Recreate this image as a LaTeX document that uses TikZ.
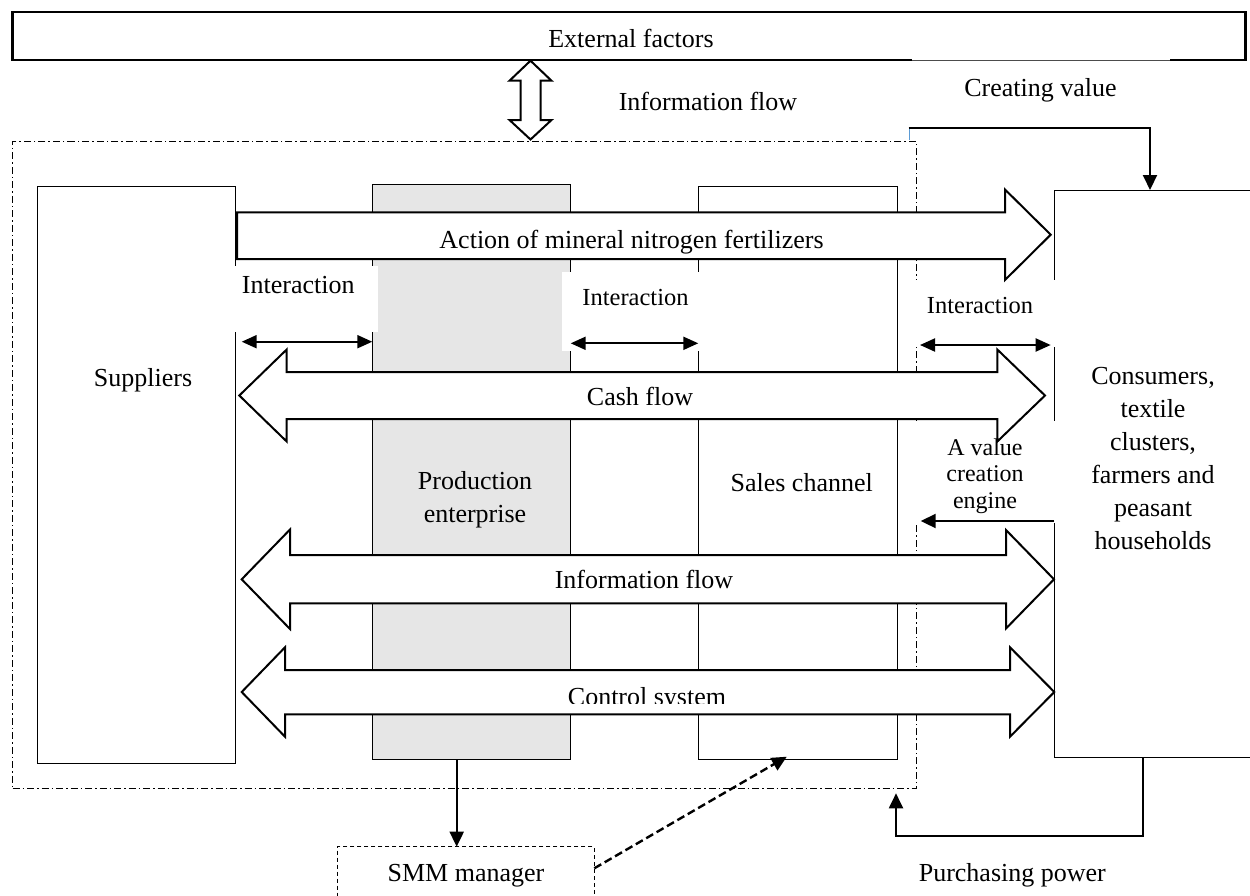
\documentclass[tikz,border=0pt]{standalone}
\usepackage{fontspec}
\setmainfont{Liberation Serif}
\usetikzlibrary{arrows.meta}
\definecolor{prodgrey}{RGB}{230,230,230}
\definecolor{tickblue}{RGB}{91,155,213}
\begin{document}
\begin{tikzpicture}[x=1pt,y=-1pt,
  every node/.style={font=\fontsize{26}{33}\selectfont, inner sep=0pt, outer sep=0pt},
  box/.style={draw, line width=1pt, rectangle, anchor=north west, inner sep=0pt},
  blockarrow/.style={draw, line width=2pt, fill=white, line join=miter},
  tip/.style={line width=2pt, -{Triangle[length=15pt,width=14pt]}},
  dbltip/.style={line width=2pt, {Triangle[length=15pt,width=13pt]}-{Triangle[length=15pt,width=13pt]}},
  lbl/.style={anchor=base},
  small/.style={font=\fontsize{24.5}{27}\selectfont},
  cover/.style={fill=white, draw=none},
  dashdotline/.style={dash pattern=on 7pt off 3pt on 1.5pt off 3pt},
]
\useasboundingbox (0,0) rectangle (1250,895);
\clip (0,0) rectangle (1250,895);

% ---- frames and boxes
\node[box, dashdotline, minimum width=904pt, minimum height=646.3pt] (sys) at (12.7,141.7) {};
\node[box, line width=2.4pt, minimum width=1233pt, minimum height=48.3pt] (ext) at (12.5,11.7) {};
\fill[white] (912,58.2) rectangle (1170,61.8);
\draw[line width=0.6pt, black!70] (912,60) -- (1170,60);

\node[box, minimum width=198pt, minimum height=577.3pt] (sup) at (37.7,186) {};
\node[box, fill=prodgrey, minimum width=198.4pt, minimum height=575pt] (prod) at (372.3,184) {};
\node[box, minimum width=199pt, minimum height=573pt] (sales) at (698.3,186) {};
\node[box, minimum width=208pt, minimum height=567.7pt] (cons) at (1054,190) {};
\node[box, dashed, dash pattern=on 4pt off 3pt, minimum width=257pt, minimum height=70pt] (smm) at (337.3,846.7) {};

% ---- white label backgrounds
\fill[cover] (230,266) rectangle (378,332);
\fill[cover] (562,272) rectangle (700,351);
\fill[cover] (910,279.5) rectangle (1056,347);
\fill[cover] (910,421) rectangle (1056,523);

% ---- block arrows
\draw[blockarrow] (530.5,60.7) -- (551.5,80.7) -- (540.5,80.7) -- (540.5,120) -- (551.5,120) -- (530.5,139.5) -- (509.5,120) -- (520.5,120) -- (520.5,80.7) -- (509.5,80.7) -- cycle;
\draw[blockarrow] (237,212.3) -- (1005,212.3) -- (1005,189.5) -- (1050.7,234.7) -- (1005,280) -- (1005,259) -- (237,259) -- cycle;
\draw[blockarrow] (239.3,395.5) -- (286.7,349.5) -- (286.7,372) -- (997.3,372) -- (997.3,349.5) -- (1045,395.5) -- (997.3,441.5) -- (997.3,419) -- (286.7,419) -- (286.7,441.5) -- cycle;
\draw[blockarrow] (241.7,579.3) -- (290,529.5) -- (290,555) -- (1006,555) -- (1006,530) -- (1054,579.3) -- (1006,628.5) -- (1006,603.3) -- (290,603.3) -- (290,629) -- cycle;
\draw[blockarrow] (241.7,692) -- (285,647.3) -- (285,670) -- (1010,670) -- (1010,647.3) -- (1054.3,692) -- (1010,736.7) -- (1010,714.3) -- (285,714.3) -- (285,736.7) -- cycle;

% ---- texts
\node[lbl] (extt) at (631,47) {External factors};
\node[lbl] (inftop) at (708,110.7) {Information flow};
\node[lbl] (cvt) at (1040.5,96.7) {Creating value};
\node[lbl] (actt) at (631.5,248) {Action of mineral nitrogen fertilizers};
\node[lbl] (int1) at (298.3,293.3) {Interaction};
\node[lbl, small] (int2) at (635.5,305) {Interaction};
\node[lbl, small] (int3) at (980,313.3) {Interaction};
\node[lbl] (supt) at (143,386) {Suppliers};
\node[lbl] (cash) at (640,405) {Cash flow};
\node[align=center] (prodt) at (475,499.9) {Production\\enterprise};
\node[lbl] (salest) at (801.7,491.7) {Sales channel};
\node[align=center, font=\fontsize{24}{26.7}\selectfont] (engt) at (985,476) {A value\\creation\\engine};
\node[align=center] (const) at (1153,458.7) {Consumers,\\textile\\clusters,\\farmers and\\peasant\\households};
\node[lbl] (infmid) at (644,588.3) {Information flow};
\begin{scope}
  \clip (286,660) rectangle (1009,703.8);
  \node[lbl] (ctrl) at (647,705) {Control system};
\end{scope}
\node[lbl] (smmt) at (466,881.7) {SMM manager};
\node[lbl] (ppt) at (1012.3,881.7) {Purchasing power};

% ---- connectors
\coordinate (cvs) at (908.5,128);
\draw[tickblue, line width=1pt] (909,128) -- (909,140);
\draw[tip, line join=miter] (cvs) -| ([xshift=-8pt]cons.north);

\coordinate (yi1) at (0,341.7);
\coordinate (yi2) at (0,343.3);
\coordinate (yi3) at (0,345);
\coordinate (yv) at (0,521);
\draw[dbltip, shorten <=6pt] (sup.east |- yi1) -- (prod.west |- yi1);
\draw[dbltip] (prod.east |- yi2) -- (sales.west |- yi2);
\draw[dbltip, shorten <=3.3pt, shorten >=3.3pt] (sys.east |- yi3) -- (cons.west |- yi3);
\draw[tip, shorten >=4pt] (cons.west |- yv) -- (sys.east |- yv);

\coordinate (xs) at (456.7,0);
\draw[tip] (prod.south -| xs) -- (smm.north -| xs);
\coordinate (ysm) at (0,868.3);
\draw[tip, line width=2.4pt, dash pattern=on 8pt off 4pt] (smm.east |- ysm) -- ([xshift=-11pt,yshift=2.3pt]sales.south);
\coordinate (ppc) at (896,836);
\draw[tip, line join=miter] ([xshift=-15.3pt]cons.south) |- (ppc) -- ([yshift=-5.3pt]sys.south -| ppc);
\end{tikzpicture}
\end{document}
